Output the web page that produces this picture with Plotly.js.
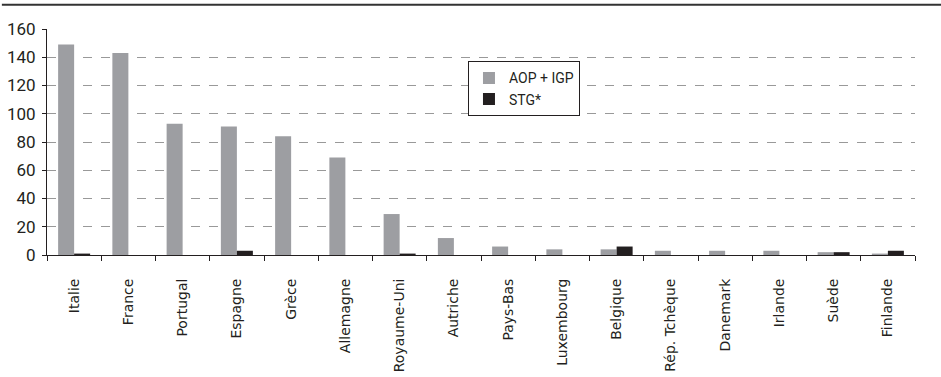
<!DOCTYPE html>
<html><head><meta charset="utf-8">
<script src="https://cdn.plot.ly/plotly-3.0.1.min.js"></script>
<style>html,body{margin:0;padding:0;background:#fff}#c{width:941px;height:377px}</style>
</head><body><div id="c"></div>
<script>
var categories = ["Italie","France","Portugal","Espagne","Grèce","Allemagne","Royaume-Uni","Autriche","Pays-Bas","Luxembourg","Belgique","Rép. Tchèque","Danemark","Irlande","Suède","Finlande"];
var aopIgp = [149,143,93,91,84,69,29,12,6,4,4,3,3,3,2,1];
var stg = [1,0,0,3,0,0,1,0,0,0,6,0,0,0,2,3];
var seriesNames = ["AOP + IGP","STG*"];
var yTicks = [0,20,40,60,80,100,120,140,160];

var traces = [
  {type:"bar", x:categories, y:aopIgp, name:seriesNames[0], marker:{color:"#9d9ea2"}},
  {type:"bar", x:categories, y:stg, name:seriesNames[1], marker:{color:"#231f20"}}
];
var narrow = "Roboto, sans-serif";
var layout = {
  width:941, height:377,
  margin:{l:47, r:26, t:29, b:122},
  barmode:"group", bargap:0.41, bargroupgap:0,
  paper_bgcolor:"#fff", plot_bgcolor:"#fff",
  font:{family:"DejaVu Sans", color:"#231f20"},
  showlegend:true,
  legend:{x:0.485, y:0.857, xanchor:"left", yanchor:"top", bgcolor:"#fff", bordercolor:"#231f20", borderwidth:1,
          font:{family:narrow, size:14, color:"#231f20"}, tracegroupgap:0, itemwidth:30},
  xaxis:{type:"category", tickangle:-90, showline:true, linecolor:"#231f20", linewidth:1,
         ticks:"outside", ticklen:5, tickcolor:"#231f20", tickson:"boundaries", ticklabelstandoff:17,
         tickfont:{family:"DejaVu Sans", size:14, color:"#231f20"}, showgrid:false, zeroline:false},
  yaxis:{range:[0,160], tickvals:yTicks, ticktext:yTicks.map(String), showline:true, linecolor:"#231f20", linewidth:1,
         ticks:"outside", ticklen:4, tickcolor:"#231f20", ticklabelstandoff:3,
         tickfont:{family:narrow, size:17, color:"#231f20"},
         showgrid:true, gridcolor:"#999", griddash:"dash", gridwidth:1, zeroline:false},
  shapes:[{type:"line", xref:"paper", yref:"paper", x0:-0.052, x1:1.03, y0:1.107, y1:1.107, line:{color:"#333", width:2}}]
};
Plotly.newPlot("c", traces, layout, {displayModeBar:false, staticPlot:true});
</script></body></html>
